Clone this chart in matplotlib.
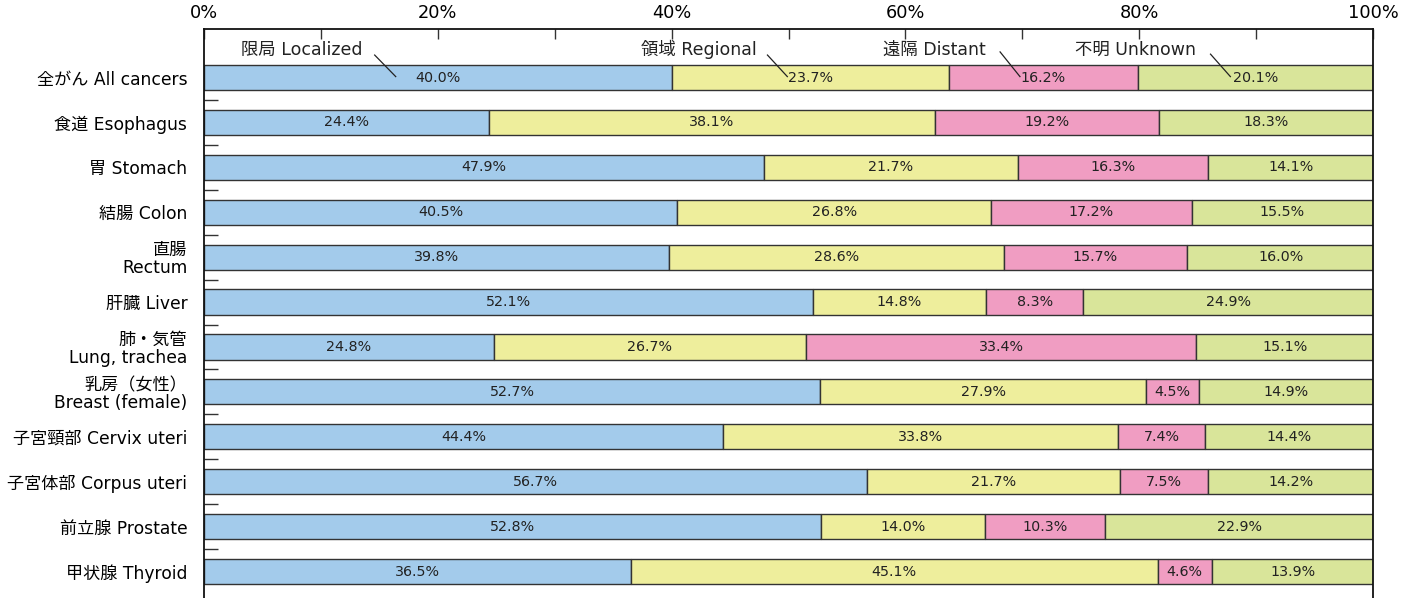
import matplotlib
matplotlib.use("Agg")
import matplotlib.pyplot as plt
import numpy as np

plt.rcParams['font.family'] = ['DejaVu Sans', 'Noto Sans CJK JP']

categories = ["全がん All cancers", "食道 Esophagus", "胃 Stomach", "結腸 Colon",
              "直腸\nRectum", "肝臓 Liver", "肺・気管\nLung, trachea",
              "乳房（女性）\nBreast (female)", "子宮頸部 Cervix uteri",
              "子宮体部 Corpus uteri", "前立腺 Prostate", "甲状腺 Thyroid"]
localized = [40.0, 24.4, 47.9, 40.5, 39.8, 52.1, 24.8, 52.7, 44.4, 56.7, 52.8, 36.5]
regional = [23.7, 38.1, 21.7, 26.8, 28.6, 14.8, 26.7, 27.9, 33.8, 21.7, 14.0, 45.1]
distant = [16.2, 19.2, 16.3, 17.2, 15.7, 8.3, 33.4, 4.5, 7.4, 7.5, 10.3, 4.6]
unknown = [20.1, 18.3, 14.1, 15.5, 16.0, 24.9, 15.1, 14.9, 14.4, 14.2, 22.9, 13.9]
series_names = ["限局 Localized", "領域 Regional", "遠隔 Distant", "不明 Unknown"]
colors = ["#a3cbeb", "#eeee9c", "#f09dc2", "#d9e59a"]
xticks = [0, 20, 40, 60, 80, 100]
xtick_labels = ["0%", "20%", "40%", "60%", "80%", "100%"]

fig = plt.figure(figsize=(14.16, 5.98), dpi=100)
ax = fig.add_axes([204/1416, 0.0, (1373-204)/1416, 1 - 29/598])

series = [localized, regional, distant, unknown]
y = np.arange(len(categories))
left = np.zeros(len(categories))
bar_h = 0.56
for vals, col in zip(series, colors):
    vals = np.array(vals)
    ax.barh(y, vals, left=left, height=bar_h, color=col, edgecolor="#333333", linewidth=1.0)
    for yi, (l, v) in enumerate(zip(left, vals)):
        ax.text(l + v/2, yi, f"{v:.1f}%", ha="center", va="center", fontsize=10.3, color="#222222")
    left = left + vals

ax.set_xlim(0, 100)
ax.set_ylim(11.59, -1.08)

ax.xaxis.tick_top()
ax.set_xticks(xticks)
ax.set_xticklabels(xtick_labels, fontsize=12.8)
ax.set_xticks([10, 30, 50, 70, 90], minor=True)
ax.tick_params(axis="x", which="both", direction="in", length=7, width=1, color="#333333", pad=5, top=True, bottom=False)

ax.set_yticks(y)
ax.set_yticklabels(categories, fontsize=12.3, linespacing=1.0)
ax.set_yticks(np.arange(0.5, len(categories) - 1, 1.0), minor=True)
ax.tick_params(axis="y", which="major", length=0, pad=12)
ax.tick_params(axis="y", which="minor", direction="in", length=10, width=1, color="#333333")

for s in ["top", "left", "right"]:
    ax.spines[s].set_linewidth(1.3)
    ax.spines[s].set_color("#111111")
ax.spines["bottom"].set_visible(False)

# series annotations above first bar
ann_text_x = [8.4, 42.3, 62.5, 79.7]
ann_line = [((14.6, -0.50), (16.4, -0.02)),
            ((48.2, -0.50), (49.9, -0.02)),
            ((68.1, -0.57), (69.8, -0.02)),
            ((86.1, -0.52), (87.8, -0.02))]
for name, tx, (p0, p1) in zip(series_names, ann_text_x, ann_line):
    ax.text(tx, -0.62, name, ha="center", va="center", fontsize=12.5, color="#222222")
    ax.plot([p0[0], p1[0]], [p0[1], p1[1]], color="#222222", linewidth=0.9)

fig.savefig("out.png", dpi=100)
